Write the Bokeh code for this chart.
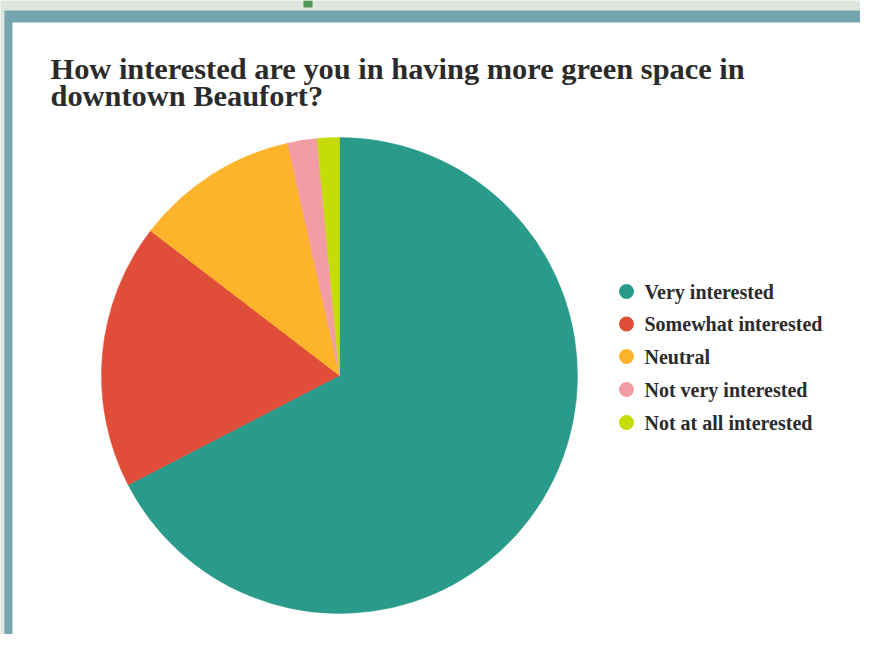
import numpy as np
from bokeh.plotting import figure
from bokeh.models import Range1d, ColumnDataSource
from bokeh.core.properties import value
from bokeh.embed import file_html
from bokeh.resources import INLINE

# ---- data ----
categories = ["Very interested", "Somewhat interested", "Neutral",
              "Not very interested", "Not at all interested"]
shares = [67.4, 18.0, 11.1, 2.0, 1.5]
colors = ["#2a9a8a", "#e04e39", "#fdb42a", "#f29ca3", "#c5dc08"]
title_lines = ["How interested are you in having more green space in",
               "downtown Beaufort?"]

W, H = 860, 634
p = figure(width=W, height=H, output_backend="svg", toolbar_location=None,
           x_range=Range1d(0, W), y_range=Range1d(0, H), min_border=0)
p.axis.visible = False
p.grid.visible = False
p.outline_line_color = None
p.background_fill_color = "#dfe5df"
p.border_fill_color = "#dfe5df"

# frame
p.quad(left=[4], right=[W], bottom=[0], top=[624], fill_color="#75a5b0", line_color=None)
p.quad(left=[12], right=[W], bottom=[0], top=[612], fill_color="#ffffff", line_color=None)
p.quad(left=[303], right=[312], bottom=[627], top=[H], fill_color="#4f9a55", line_color=None)

# pie
vals = np.array(shares, dtype=float)
frac = vals / vals.sum()
cum = np.cumsum(frac)
prev = np.concatenate([[0.0], cum[:-1]])
start = np.pi / 2 - prev * 2 * np.pi
end = np.pi / 2 - cum * 2 * np.pi
src = ColumnDataSource(dict(start=start, end=end, color=colors, cat=categories))
p.wedge(x=339, y=259, radius=238, start_angle="start", end_angle="end",
        direction="clock", fill_color="color", line_color="color", line_width=0.5,
        source=src)

# title
font = value("Liberation Serif")
p.text(x=[50, 50], y=[566, 539], text=title_lines, text_font=font,
       text_font_size="30.4px", text_font_style="bold", text_color="#2b2b2b",
       text_baseline="alphabetic", text_align="left")

# legend
ly = [343, 310.5, 278, 245, 212]
p.scatter(x=[626] * 5, y=ly, size=15, marker="circle", fill_color=colors, line_color=None)
p.text(x=[644] * 5, y=ly, text=categories, text_font=font, text_font_size="20px",
       text_font_style="bold", text_color="#2b2b2b", text_baseline="middle",
       text_align="left")

open("out.html", "w").write(file_html(p, INLINE))
